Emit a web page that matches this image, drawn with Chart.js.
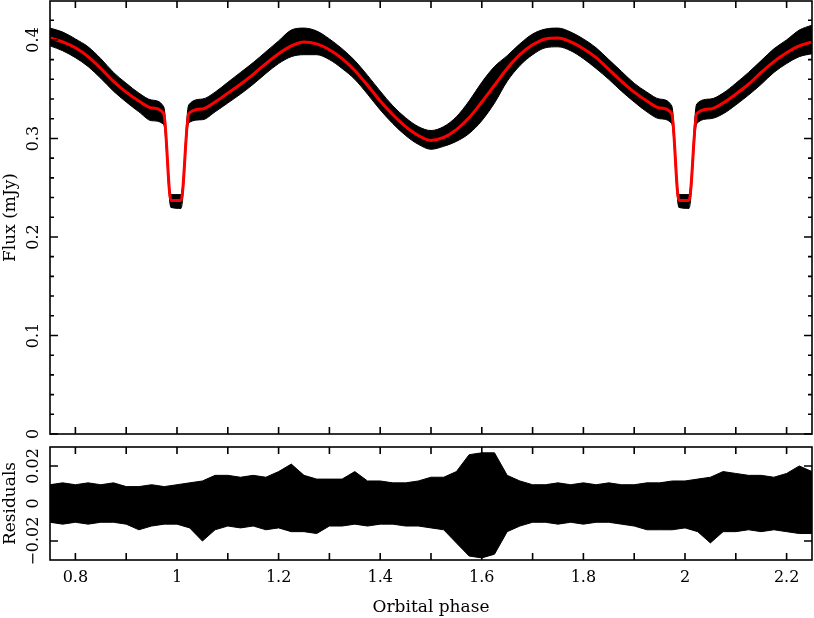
<!DOCTYPE html>
<html>
<head>
<meta charset="utf-8">
<script src="https://cdn.jsdelivr.net/npm/chart.js@4.4.1/dist/chart.umd.min.js"></script>
<style>
  body { margin: 0; background: #fff; }
  #wrap { position: relative; width: 814px; height: 618px; }
  canvas { position: absolute; left: 0; }
  #flux-chart { top: 0; }
  #res-chart { top: 440px; }
</style>
</head>
<body>
<div id="wrap">
  <canvas id="flux-chart" width="814" height="440"></canvas>
  <canvas id="res-chart" width="814" height="178"></canvas>
</div>
<script>
// light curve: model (red) and the spread of the data points round it
const phase = [0.750, 0.775, 0.800, 0.825, 0.850, 0.875, 0.900, 0.925, 0.950, 0.974,
  0.988, 1.008, 1.023, 1.050, 1.075, 1.100, 1.125, 1.150, 1.175, 1.200,
  1.225, 1.250, 1.275, 1.300, 1.325, 1.350, 1.375, 1.400, 1.425, 1.450,
  1.475, 1.500, 1.525, 1.550, 1.575, 1.600, 1.625, 1.650, 1.675, 1.700,
  1.725, 1.750, 1.775, 1.800, 1.825, 1.850, 1.875, 1.900, 1.925, 1.950,
  1.974, 1.988, 2.008, 2.023, 2.050, 2.075, 2.100, 2.125, 2.150, 2.175,
  2.200, 2.225, 2.250];
const modelFlux = [0.402, 0.398, 0.392, 0.383, 0.371, 0.358, 0.347, 0.338, 0.331, 0.325,
  0.237, 0.237, 0.325, 0.330, 0.337, 0.346, 0.355, 0.365, 0.376, 0.386,
  0.394, 0.398, 0.396, 0.390, 0.381, 0.369, 0.354, 0.338, 0.324, 0.312,
  0.303, 0.298, 0.301, 0.309, 0.321, 0.337, 0.354, 0.371, 0.385, 0.395,
  0.401, 0.402, 0.398, 0.391, 0.382, 0.370, 0.358, 0.347, 0.338, 0.331,
  0.325, 0.237, 0.237, 0.325, 0.330, 0.336, 0.345, 0.355, 0.367, 0.378,
  0.387, 0.394, 0.398];
const dataHigh = [0.412, 0.408, 0.401, 0.393, 0.381, 0.367, 0.356, 0.346, 0.339, 0.332,
  0.243, 0.243, 0.334, 0.340, 0.347, 0.357, 0.367, 0.377, 0.388, 0.399,
  0.410, 0.412, 0.409, 0.401, 0.391, 0.379, 0.364, 0.348, 0.333, 0.321,
  0.312, 0.308, 0.312, 0.322, 0.338, 0.357, 0.373, 0.384, 0.396, 0.406,
  0.411, 0.412, 0.408, 0.401, 0.392, 0.380, 0.368, 0.356, 0.347, 0.340,
  0.333, 0.243, 0.243, 0.335, 0.340, 0.346, 0.356, 0.367, 0.379, 0.391,
  0.400, 0.410, 0.415];
const dataLow = [0.394, 0.389, 0.382, 0.373, 0.361, 0.348, 0.337, 0.327, 0.318, 0.314,
  0.230, 0.229, 0.316, 0.319, 0.327, 0.336, 0.345, 0.355, 0.366, 0.376,
  0.383, 0.385, 0.385, 0.380, 0.371, 0.360, 0.345, 0.329, 0.315, 0.303,
  0.294, 0.289, 0.292, 0.297, 0.305, 0.318, 0.336, 0.358, 0.374, 0.385,
  0.392, 0.393, 0.389, 0.381, 0.371, 0.360, 0.348, 0.337, 0.327, 0.320,
  0.315, 0.230, 0.229, 0.315, 0.320, 0.325, 0.334, 0.344, 0.355, 0.367,
  0.376, 0.383, 0.386];

// residuals: upper and lower reach of the points
const resPhase = [0.750, 0.775, 0.800, 0.825, 0.850, 0.875, 0.900, 0.925, 0.950, 0.975,
  1.000, 1.025, 1.050, 1.075, 1.100, 1.125, 1.150, 1.175, 1.200, 1.225,
  1.250, 1.275, 1.300, 1.325, 1.350, 1.375, 1.400, 1.425, 1.450, 1.475,
  1.500, 1.525, 1.550, 1.575, 1.600, 1.625, 1.650, 1.675, 1.700, 1.725,
  1.750, 1.775, 1.800, 1.825, 1.850, 1.875, 1.900, 1.925, 1.950, 1.975,
  2.000, 2.025, 2.050, 2.075, 2.100, 2.125, 2.150, 2.175, 2.200, 2.225, 2.250];
const resHigh = [0.010, 0.011, 0.010, 0.011, 0.010, 0.011, 0.009, 0.009, 0.010, 0.009,
  0.010, 0.011, 0.012, 0.015, 0.015, 0.014, 0.015, 0.014, 0.017, 0.021,
  0.015, 0.013, 0.013, 0.013, 0.017, 0.012, 0.012, 0.011, 0.011, 0.012,
  0.014, 0.014, 0.017, 0.026, 0.027, 0.027, 0.015, 0.012, 0.010, 0.010,
  0.011, 0.010, 0.011, 0.010, 0.011, 0.010, 0.010, 0.011, 0.011, 0.012,
  0.012, 0.013, 0.014, 0.017, 0.016, 0.015, 0.015, 0.014, 0.016, 0.020, 0.017];
const resLow = [-0.010, -0.011, -0.010, -0.011, -0.010, -0.010, -0.011, -0.014, -0.012, -0.011,
  -0.011, -0.013, -0.020, -0.014, -0.012, -0.013, -0.012, -0.014, -0.013, -0.015,
  -0.015, -0.016, -0.012, -0.012, -0.011, -0.012, -0.011, -0.011, -0.012, -0.012,
  -0.013, -0.014, -0.021, -0.028, -0.029, -0.027, -0.015, -0.012, -0.010, -0.010,
  -0.011, -0.010, -0.011, -0.010, -0.010, -0.011, -0.012, -0.014, -0.014, -0.014,
  -0.013, -0.015, -0.021, -0.015, -0.015, -0.014, -0.015, -0.014, -0.015, -0.016, -0.016];

// axes
const xTicks = [0.8, 0.9, 1.0, 1.1, 1.2, 1.3, 1.4, 1.5, 1.6, 1.7, 1.8, 1.9, 2.0, 2.1, 2.2];
const xLabelValues = [0.8, 1.0, 1.2, 1.4, 1.6, 1.8, 2.0, 2.2];
const xLabels = ['0.8', '1', '1.2', '1.4', '1.6', '1.8', '2', '2.2'];
const fluxMajor = [0, 0.1, 0.2, 0.3, 0.4];
const fluxMinor = [0.02, 0.04, 0.06, 0.08, 0.12, 0.14, 0.16, 0.18, 0.22, 0.24, 0.26, 0.28,
  0.32, 0.34, 0.36, 0.38, 0.42];
const fluxLabels = ['0', '0.1', '0.2', '0.3', '0.4'];
const resMajor = [-0.02, 0, 0.02];
const resMinor = [-0.01, 0.01];
const resLabels = ['\u22120.02', '0', '0.02'];

Chart.defaults.font.family = '"DejaVu Serif", serif';
Chart.defaults.font.size = 16;
Chart.defaults.color = '#000';

function points(xs, ys) {
    return xs.map((x, i) => ({ x: x, y: ys[i] }));
}

// box round the plot, ticks pointing inwards, rotated y labels
const framePlugin = {
    id: 'frame',
    afterDatasetsDraw(chart, args, opts) {
        const ctx = chart.ctx;
        const a = chart.chartArea;
        const xs = chart.scales.x;
        const ys = chart.scales.y;
        ctx.save();
        ctx.strokeStyle = '#000';
        ctx.lineWidth = 1.6;
        ctx.beginPath();
        xTicks.forEach(v => {
            const px = xs.getPixelForValue(v);
            ctx.moveTo(px, a.bottom); ctx.lineTo(px, a.bottom - 7);
            ctx.moveTo(px, a.top); ctx.lineTo(px, a.top + 7);
        });
        opts.major.forEach(v => {
            const py = ys.getPixelForValue(v);
            ctx.moveTo(a.left, py); ctx.lineTo(a.left + 8, py);
            ctx.moveTo(a.right, py); ctx.lineTo(a.right - 8, py);
        });
        opts.minor.forEach(v => {
            const py = ys.getPixelForValue(v);
            ctx.moveTo(a.left, py); ctx.lineTo(a.left + 4, py);
            ctx.moveTo(a.right, py); ctx.lineTo(a.right - 4, py);
        });
        ctx.stroke();
        ctx.strokeRect(a.left, a.top, a.right - a.left, a.bottom - a.top);

        ctx.fillStyle = '#000';
        ctx.font = '16px "DejaVu Serif"';
        ctx.textAlign = 'center';
        ctx.textBaseline = 'middle';
        opts.labels.forEach((t, i) => {
            const py = ys.getPixelForValue(opts.major[i]);
            ctx.save();
            ctx.translate(34, py);
            ctx.rotate(-Math.PI / 2);
            ctx.fillText(t, 0, 0);
            ctx.restore();
        });
        ctx.restore();
    }
};

const fluxChart = new Chart(document.getElementById('flux-chart'), {
    type: 'line',
    data: {
        datasets: [{
            label: 'Model',
            data: points(phase, modelFlux),
            borderColor: '#ff0000',
            borderWidth: 3,
            pointRadius: 0,
            cubicInterpolationMode: 'monotone',
            fill: false,
            order: 0
        }, {
            label: 'Data high',
            data: points(phase, dataHigh),
            borderColor: '#000',
            borderWidth: 1,
            pointRadius: 0,
            cubicInterpolationMode: 'monotone',
            fill: false,
            order: 2
        }, {
            label: 'Data low',
            data: points(phase, dataLow),
            borderColor: '#000',
            backgroundColor: '#000',
            borderWidth: 1,
            pointRadius: 0,
            cubicInterpolationMode: 'monotone',
            fill: '-1',
            order: 1
        }]
    },
    options: {
        responsive: false,
        animation: false,
        layout: { padding: { top: 1, right: 2, bottom: 6, left: 0 } },
        plugins: {
            legend: { display: false },
            tooltip: { enabled: false },
            frame: { major: fluxMajor, minor: fluxMinor, labels: fluxLabels }
        },
        scales: {
            x: {
                type: 'linear',
                display: false,
                min: 0.75,
                max: 2.25
            },
            y: {
                type: 'linear',
                min: 0,
                max: 0.4395,
                grid: { display: false },
                border: { display: false },
                ticks: { display: false },
                title: { display: true, text: 'Flux (mJy)', padding: 0, font: { size: 17 } },
                afterFit: scale => { scale.width = 50; }
            }
        }
    },
    plugins: [framePlugin]
});

const resChart = new Chart(document.getElementById('res-chart'), {
    type: 'line',
    data: {
        datasets: [{
            label: 'Residual high',
            data: points(resPhase, resHigh),
            borderColor: '#000',
            borderWidth: 1,
            pointRadius: 0,
            fill: false
        }, {
            label: 'Residual low',
            data: points(resPhase, resLow),
            borderColor: '#000',
            backgroundColor: '#000',
            borderWidth: 1,
            pointRadius: 0,
            fill: '-1'
        }]
    },
    options: {
        responsive: false,
        animation: false,
        layout: { padding: { top: 7, right: 2, bottom: 0, left: 0 } },
        plugins: {
            legend: { display: false },
            tooltip: { enabled: false },
            frame: { major: resMajor, minor: resMinor, labels: resLabels }
        },
        scales: {
            x: {
                type: 'linear',
                min: 0.75,
                max: 2.25,
                grid: { display: false },
                border: { display: false },
                afterBuildTicks: scale => {
                    scale.ticks = xLabelValues.map(v => ({ value: v }));
                },
                ticks: {
                    autoSkip: false,
                    maxRotation: 0,
                    padding: 0,
                    callback: (value, index) => xLabels[index]
                },
                title: { display: true, text: 'Orbital phase', padding: 0, font: { size: 17 } },
                afterFit: scale => { scale.height = 58; }
            },
            y: {
                type: 'linear',
                min: -0.0301,
                max: 0.0301,
                grid: { display: false },
                border: { display: false },
                ticks: { display: false },
                title: { display: true, text: 'Residuals', padding: 0, font: { size: 17 } },
                afterFit: scale => { scale.width = 50; }
            }
        }
    },
    plugins: [framePlugin]
});
</script>
</body>
</html>
